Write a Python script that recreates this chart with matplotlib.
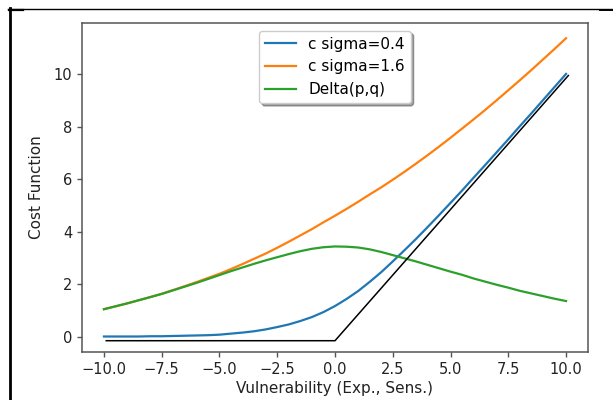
import matplotlib
matplotlib.use("Agg")
import matplotlib.pyplot as plt
from matplotlib.lines import Line2D

# ---- data ----
x_vals = [-10.0, -9.5, -9.0, -8.5, -8.0, -7.5, -7.0, -6.5, -6.0, -5.5, -5.0,
          -4.5, -4.0, -3.5, -3.0, -2.5, -2.0, -1.5, -1.0, -0.5, 0.0,
          0.5, 1.0, 1.5, 2.0, 2.5, 3.0, 3.5, 4.0, 4.5, 5.0,
          5.5, 6.0, 6.5, 7.0, 7.5, 8.0, 8.5, 9.0, 9.5, 10.0]

c_sigma_04 = [0.01, 0.01, 0.01, 0.01, 0.02, 0.02, 0.03, 0.04, 0.05, 0.06, 0.08,
              0.12, 0.16, 0.21, 0.28, 0.37, 0.47, 0.60, 0.75, 0.94, 1.17,
              1.44, 1.74, 2.09, 2.46, 2.87, 3.29, 3.72, 4.17, 4.63, 5.10,
              5.57, 6.06, 6.54, 7.03, 7.52, 8.02, 8.51, 9.01, 9.51, 10.01]

c_sigma_16 = [1.05, 1.16, 1.27, 1.39, 1.51, 1.64, 1.78, 1.93, 2.08, 2.24, 2.40,
              2.58, 2.77, 2.97, 3.17, 3.39, 3.62, 3.86, 4.10, 4.36, 4.61,
              4.87, 5.14, 5.42, 5.69, 5.98, 6.28, 6.59, 6.91, 7.24, 7.58,
              7.93, 8.28, 8.64, 9.01, 9.39, 9.77, 10.16, 10.56, 10.96, 11.37]

delta_pq = [1.05, 1.16, 1.27, 1.39, 1.51, 1.63, 1.77, 1.91, 2.05, 2.20, 2.35,
            2.50, 2.64, 2.78, 2.91, 3.03, 3.15, 3.26, 3.35, 3.41, 3.44,
            3.43, 3.40, 3.33, 3.23, 3.11, 2.99, 2.87, 2.74, 2.61, 2.48,
            2.36, 2.22, 2.10, 1.98, 1.87, 1.75, 1.65, 1.55, 1.45, 1.36]

hinge_x = [-9.9, 0.0, 10.1]
hinge_y = [-0.15, -0.15, 9.95]

labels = ["c sigma=0.4", "c sigma=1.6", "Delta(p,q)"]
x_ticks = [-10.0, -7.5, -5.0, -2.5, 0.0, 2.5, 5.0, 7.5, 10.0]
y_ticks = [0, 2, 4, 6, 8, 10]

# ---- figure ----
W, H = 613, 400
fig = plt.figure(figsize=(W / 100, H / 100), dpi=100)
ax = fig.add_axes([82 / W, 1 - 352 / H, (588 - 82) / W, (352 - 23) / H])

ax.plot(x_vals, c_sigma_04, color="#1f77b4", lw=1.6, label=labels[0])
ax.plot(x_vals, c_sigma_16, color="#ff7f0e", lw=1.6, label=labels[1])
ax.plot(x_vals, delta_pq, color="#2ca02c", lw=1.6, label=labels[2])
ax.plot(hinge_x, hinge_y, color="black", lw=1.1)

ax.set_xlim(-10.95, 10.95)
ax.set_ylim(-0.58, 11.95)
ax.set_xticks(x_ticks)
ax.set_xticklabels([f"{t:.1f}".replace("-", "\u2212") for t in x_ticks])
ax.set_yticks(y_ticks)

for s in ax.spines.values():
    s.set_color("#555555")
    s.set_linewidth(1.1)
ax.tick_params(colors="#555555", labelcolor="#222222", labelsize=10.5, width=1.0, length=3.5)

ax.set_xlabel("Vulnerability (Exp., Sens.)", fontsize=11, color="#222222", labelpad=3)
ax.set_ylabel("Cost Function", fontsize=11, color="#222222", labelpad=7)

ax.legend(loc="upper center", shadow=True, fancybox=True, fontsize=11)

# screenshot frame lines
fig.add_artist(Line2D([8 / W, 1.0], [1 - 8.5 / H, 1 - 8.5 / H], transform=fig.transFigure,
                      color="black", lw=1.0))
fig.add_artist(Line2D([600 / W, 1.0], [1 - 9.8 / H, 1 - 9.8 / H], transform=fig.transFigure,
                      color="black", lw=1.4))
fig.add_artist(Line2D([9 / W, 23 / W], [1 - 9.5 / H, 1 - 9.5 / H], transform=fig.transFigure,
                      color="black", lw=1.6))
fig.add_artist(Line2D([10.3 / W, 10.3 / W], [1 - 8 / H, 0.0], transform=fig.transFigure,
                      color="black", lw=2.0))

fig.savefig("out.png", dpi=100)
